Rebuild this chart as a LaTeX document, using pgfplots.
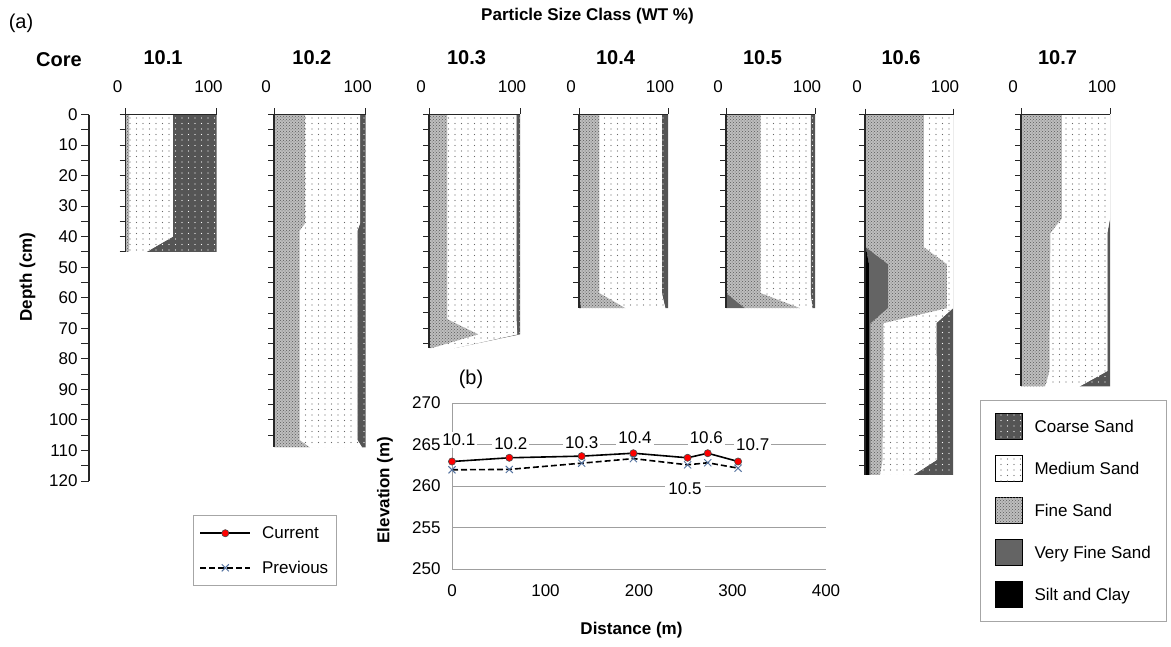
\documentclass[border=0pt]{standalone}
\usepackage{fontspec}
\setmainfont{Liberation Sans}
\usepackage{pgfplots}
\pgfplotsset{compat=1.18}
\usetikzlibrary{patterns}
\pgfdeclarepatternformonly{sparsedots}{\pgfqpoint{-1pt}{-1pt}}{\pgfqpoint{1pt}{1pt}}{\pgfqpoint{6.5pt}{5.5pt}}{\pgfpathcircle{\pgfqpoint{0pt}{0pt}}{0.65pt}\pgfusepath{fill}}
\definecolor{coarse}{RGB}{85,85,85}
\definecolor{vfine}{RGB}{100,100,100}
\definecolor{finec}{RGB}{190,190,190}
\definecolor{steel}{RGB}{85,115,160}
\newcommand\fs{\fontsize{17}{20}\selectfont}
\newcommand\fsT{\fontsize{20}{24}\selectfont}
\pgfplotsset{
  lyrBase/.style={forget plot, draw=none, mark=none},
  lyrSilt/.style={fill=black, draw=none, mark=none},
  lyrVF/.style={fill=vfine, draw=none, mark=none},
  lyrFine/.style={fill=finec, draw=none, mark=none, postaction={pattern=crosshatch dots, pattern color=gray!70!black}},
  lyrMed/.style={fill=white, draw=none, mark=none, postaction={pattern=sparsedots, pattern color=gray!80!black}},
  lyrCrs/.style={fill=coarse, draw=none, mark=none, postaction={pattern=sparsedots, pattern color=white}},
  core/.style={
    scale only axis, anchor=north west,
    axis x line*=top, axis y line*=left,
    xmin=0, xmax=100, ymin=0, y dir=reverse,
    xtick={0,100}, ytick distance=5, yticklabels={},
    tick align=outside, major tick length=6pt,
    tick style={black!85, line width=1pt},
    axis line style={black!85, line width=1.2pt},
    stack plots=x, axis on top,
    xticklabel style={anchor=center, xshift=-8pt, yshift=22pt, font=\fs},
    /pgf/number format/assume math mode=true,
    title style={at={(0.5,1)}, anchor=center, yshift=50.5pt, xshift=-8pt, font=\fsT\bfseries},
  },
}
\begin{document}
\begin{tikzpicture}[x=1pt,y=1pt]
\path[use as bounding box] (0,0) rectangle (1171,646);

% texts
\node[font=\fontsize{20}{24}\selectfont] at (21,623) {(a)};
\node[font=\fs\bfseries, anchor=base] at (587.5,625.3) {Particle Size Class (WT \%)};
\node[font=\fsT\bfseries, anchor=base] at (59,579.3) {Core};
\node[font=\fs\bfseries, rotate=90] at (27.5,369) {Depth (cm)};
\node[font=\fontsize{20}{24}\selectfont] at (471,267) {(b)};
\node[font=\fs\bfseries, rotate=90] at (385,156) {Elevation (m)};
\node[font=\fs\bfseries] at (631.5,16) {Distance (m)};

% main depth axis
\begin{axis}[scale only axis, at={(89pt,531.5pt)}, anchor=north west,
  width=1pt, height=366.5pt, hide x axis, axis y line*=left,
  xmin=0, xmax=1, ymin=0, ymax=120, y dir=reverse,
  ytick distance=10, minor y tick num=1, tick align=outside,
  major tick length=8pt, minor tick length=8pt,
  tick style={black!85, line width=1pt},
  axis line style={black!85, line width=1.2pt},
  yticklabel style={font=\fs},
  /pgf/number format/assume math mode=true]
\end{axis}

% core 10.1
\begin{axis}[core, title={10.1}, at={(125.5pt,531.5pt)}, width=91pt, height=137.4pt, ymax=45]
\addplot[lyrBase] coordinates {(0,0)(0,40)(0,45)};
\addplot[lyrFine] coordinates {(4,0)(4,40)(4,45)} \closedcycle;
\addplot[lyrMed] coordinates {(48,0)(48,40)(19,45)} \closedcycle;
\addplot[lyrCrs] coordinates {(48,0)(48,40)(77,45)} \closedcycle;
\end{axis}

% core 10.2
\begin{axis}[core, title={10.2}, at={(274pt,531.5pt)}, width=91.7pt, height=332.9pt, ymax=109]
\addplot[lyrBase] coordinates {(0,0)(0,35.5)(0,38)(0,106.6)(0,109)};
\addplot[lyrFine] coordinates {(34,0)(34,35.5)(28,38)(28,106.6)(39,109)} \closedcycle;
\addplot[lyrMed] coordinates {(60,0)(60,35.5)(63,38)(63,106.6)(57,109)} \closedcycle;
\addplot[lyrCrs] coordinates {(6,0)(6,35.5)(9,38)(9,106.6)(4,109)} \closedcycle;
\end{axis}

% core 10.3
\begin{axis}[core, title={10.3}, at={(429pt,531.5pt)}, width=91pt, height=233.6pt, ymax=76.5]
\addplot[lyrBase] coordinates {(0,0)(0,67)(0,72)(0,76.5)};
\addplot[lyrFine] coordinates {(20,0)(20,67)(54,72)(3,76.5)} \closedcycle;
\addplot[lyrMed] coordinates {(76,0)(76,67)(43,72)(25,76.5)} \closedcycle;
\addplot[lyrCrs] coordinates {(4,0)(4,67)(3,72)(0,76.5)} \closedcycle;
\end{axis}

% core 10.4
\begin{axis}[core, title={10.4}, at={(579pt,531.5pt)}, width=89pt, height=193.6pt, ymax=63.4]
\addplot[lyrBase] coordinates {(0,0)(0,58.5)(0,63.4)};
\addplot[lyrSilt] coordinates {(0,0)(0,58.5)(2,63.4)} \closedcycle;
\addplot[lyrFine] coordinates {(23,0)(23,58.5)(50,63.4)} \closedcycle;
\addplot[lyrMed] coordinates {(70,0)(70,58.5)(45,63.4)} \closedcycle;
\addplot[lyrCrs] coordinates {(7,0)(7,58.5)(3,63.4)} \closedcycle;
\end{axis}

% core 10.5
\begin{axis}[core, title={10.5}, at={(726pt,531.5pt)}, width=89pt, height=193.6pt, ymax=63.4]
\addplot[lyrBase] coordinates {(0,0)(0,58.5)(0,63.4)};
\addplot[lyrVF] coordinates {(0,0)(0,58.5)(21,63.4)} \closedcycle;
\addplot[lyrFine] coordinates {(39,0)(39,58.5)(62,63.4)} \closedcycle;
\addplot[lyrMed] coordinates {(56,0)(56,58.5)(14,63.4)} \closedcycle;
\addplot[lyrCrs] coordinates {(5,0)(5,58.5)(3,63.4)} \closedcycle;
\end{axis}

% core 10.6 (holds the texture legend)
\begin{axis}[core, title={10.6}, at={(865pt,531.5pt)}, width=88pt, height=360.4pt, ymax=118,
  reverse legend, legend cell align=left,
  legend style={at={(1.307,0.208)}, anchor=north west, draw=gray!70, line width=1pt,
    font=\fs, inner xsep=14pt, inner ysep=13pt, row sep=15pt,
    /tikz/every odd column/.append style={column sep=10pt}},
  legend image code/.code={\draw[#1, draw=black, line width=1pt] (0pt,-13pt) rectangle (27pt,13pt);}]
\addplot[lyrBase] coordinates {(0,0)(0,43.5)(0,49)(0,63.4)(0,68.3)(0,113)(0,118)};
\addplot[lyrSilt] coordinates {(1,0)(1,43.5)(4.5,49)(4.5,63.4)(4.5,68.3)(4.5,113)(4.5,118)} \closedcycle;
\addlegendentry{Silt and Clay}
\addplot[lyrVF] coordinates {(0,0)(0,43.5)(21.5,49)(21.5,63.4)(2,68.3)(2,113)(2,118)} \closedcycle;
\addlegendentry{Very Fine Sand}
\addplot[lyrFine] coordinates {(66,0)(66,43.5)(67,49)(67,63.4)(14.5,68.3)(13.5,113)(10.5,118)} \closedcycle;
\addlegendentry{Fine Sand}
\addplot[lyrMed] coordinates {(33,0)(33,43.5)(7,49)(7,63.4)(60,68.3)(62,113)(38,118)} \closedcycle;
\addlegendentry{Medium Sand}
\addplot[lyrCrs] coordinates {(0,0)(0,43.5)(0,49)(0,63.4)(19,68.3)(18,113)(45,118)} \closedcycle;
\addlegendentry{Coarse Sand}
\end{axis}

% core 10.7
\begin{axis}[core, title={10.7}, at={(1021pt,531.5pt)}, width=89pt, height=271.8pt, ymax=89]
\addplot[lyrBase] coordinates {(0,0)(0,34)(0,38.8)(0,84)(0,89)};
\addplot[lyrFine] coordinates {(46,0)(46,34)(33,38.8)(32,84)(27,89)} \closedcycle;
\addplot[lyrMed] coordinates {(54,0)(54,34)(64,38.8)(65,84)(39,89)} \closedcycle;
\addplot[lyrCrs] coordinates {(0,0)(0,34)(3,38.8)(3,84)(34,89)} \closedcycle;
\end{axis}

% elevation profile
\begin{axis}[scale only axis, at={(452pt,77pt)}, anchor=south west,
  width=374pt, height=166pt, xmin=0, xmax=400, ymin=250, ymax=270,
  xtick={0,100,200,300,400}, ytick={250,255,260,265,270},
  axis lines*=left, axis line style={gray!75, line width=0.9pt},
  ymajorgrids, grid style={gray!75, line width=0.9pt},
  major tick length=0pt, tick label style={font=\fs},
  xticklabel style={yshift=-12pt}, yticklabel style={xshift=-8pt},
  /pgf/number format/assume math mode=true, clip=false,
  reverse legend, legend cell align=left,
  legend style={at={(-0.6925,0.325)}, anchor=north west, draw=gray!70, line width=1pt,
    font=\fs, inner xsep=6pt, inner ysep=9pt, row sep=17pt,
    /tikz/every odd column/.append style={column sep=9pt}},
  legend image code/.code={\draw[mark repeat=2, mark phase=2, #1] plot coordinates {(0pt,0pt) (25pt,0pt) (50pt,0pt)};}]
\addplot[black, line width=1.6pt, dash pattern=on 6pt off 3pt, mark=x, mark size=5pt,
  mark options={draw=steel, solid, line width=1pt}]
  coordinates {(0,261.95)(61.3,262.0)(138.7,262.75)(194,263.3)(252,262.55)(273.5,262.8)(306,262.15)};
\addlegendentry{Previous}
\addplot[black, line width=1.6pt, mark=*, mark size=3.6pt,
  mark options={fill=red, draw=black!70, line width=0.6pt, solid}]
  coordinates {(0,262.95)(61.3,263.4)(138.7,263.6)(194,263.95)(252,263.4)(273.5,263.95)(306,262.95)};
\addlegendentry{Current}
\node[fill=white, inner sep=2pt, font=\fs] at (axis cs:7.3,265.55) {10.1};
\node[fill=white, inner sep=2pt, font=\fs] at (axis cs:62.9,265.13) {10.2};
\node[fill=white, inner sep=2pt, font=\fs] at (axis cs:138.7,265.2) {10.3};
\node[fill=white, inner sep=2pt, font=\fs] at (axis cs:195.7,265.85) {10.4};
\node[fill=white, inner sep=2pt, font=\fs] at (axis cs:272,265.85) {10.6};
\node[fill=white, inner sep=2pt, font=\fs] at (axis cs:321.7,264.95) {10.7};
\node[fill=white, inner sep=3pt, font=\fs] at (axis cs:249.2,259.66) {10.5};
\end{axis}
\end{tikzpicture}
\end{document}
